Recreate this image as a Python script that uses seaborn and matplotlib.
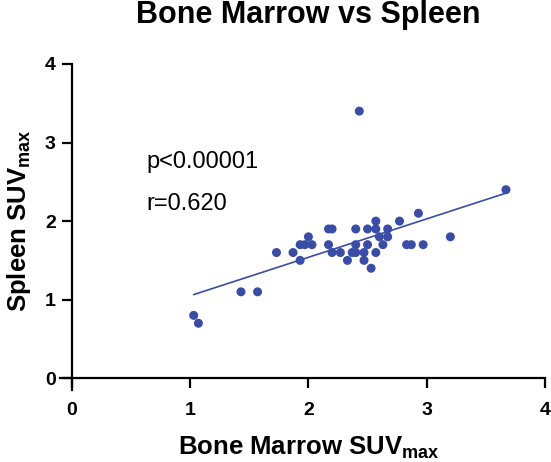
import numpy as np
import pandas as pd
import matplotlib
matplotlib.use("Agg")
import matplotlib.pyplot as plt
import seaborn as sns

bone_marrow = [1.03, 1.07, 1.43, 1.57, 1.73, 1.87, 1.93, 1.93, 1.97, 2.00, 2.03,
               2.17, 2.20, 2.17, 2.20, 2.27, 2.33, 2.37, 2.40, 2.40, 2.40, 2.43,
               2.47, 2.47, 2.50, 2.50, 2.53, 2.57, 2.57, 2.57, 2.60, 2.63, 2.67,
               2.67, 2.77, 2.83, 2.87, 2.93, 2.97, 3.20, 3.67]
spleen = [0.8, 0.7, 1.1, 1.1, 1.6, 1.6, 1.5, 1.7, 1.7, 1.8, 1.7,
          1.9, 1.9, 1.7, 1.6, 1.6, 1.5, 1.6, 1.6, 1.9, 1.7, 3.4,
          1.6, 1.5, 1.9, 1.7, 1.4, 2.0, 1.9, 1.6, 1.8, 1.7, 1.9,
          1.8, 2.0, 1.7, 1.7, 2.1, 1.7, 1.8, 2.4]
x_ticks = [0, 1, 2, 3, 4]
y_ticks = [0, 1, 2, 3, 4]
title = "Bone Marrow vs Spleen"
xlabel = r"Bone Marrow SUV$_{\mathbf{max}}$"
ylabel = r"Spleen SUV$_{\mathbf{max}}$"
annot_p = "p<0.00001"
annot_r = "r=0.620"

df = pd.DataFrame({"bm": bone_marrow, "sp": spleen})

sns.set_theme(style="ticks")
plt.rcParams["font.family"] = ["Liberation Sans", "DejaVu Sans"]
plt.rcParams["mathtext.fontset"] = "custom"
plt.rcParams["mathtext.rm"] = "Liberation Sans"
plt.rcParams["mathtext.bf"] = "Liberation Sans:bold"
plt.rcParams["mathtext.it"] = "Liberation Sans:italic"
plt.rcParams["text.color"] = "black"
plt.rcParams["axes.labelcolor"] = "black"

color = "#3a4da6"
fig = plt.figure(figsize=(5.51, 4.62), dpi=100)
ax = fig.add_axes([60/551, (462-390)/462, 485/551, 326/462])

sns.scatterplot(data=df, x="bm", y="sp", ax=ax, color=color, s=42,
                edgecolor="none", linewidth=0, zorder=3)

slope, intercept = np.polyfit(df["bm"], df["sp"], 1)
xs = np.array([df["bm"].min(), df["bm"].max()])
sns.lineplot(x=xs, y=slope * xs + intercept, ax=ax, color=color, linewidth=1.2)

ax.set_xlim(-0.1, 4.0)
ax.set_ylim(-0.15, 4.0)
ax.spines["left"].set_position(("data", 0))
ax.spines["bottom"].set_position(("data", 0))
for s in ["top", "right"]:
    ax.spines[s].set_visible(False)
for s in ["left", "bottom"]:
    ax.spines[s].set_linewidth(1.6)
    ax.spines[s].set_color("black")
ax.set_xticks(x_ticks)
ax.set_yticks(y_ticks)
ax.tick_params(axis="both", direction="out", length=7.5, width=1.6, colors="black",
               labelsize=14)
ax.tick_params(axis="x", pad=9.5)
ax.tick_params(axis="y", pad=4)
for lab in ax.get_xticklabels() + ax.get_yticklabels():
    lab.set_fontweight("bold")

ax.set_xlabel(xlabel, fontsize=18.5, fontweight="bold")
ax.set_ylabel(ylabel, fontsize=18.5, fontweight="bold")
ax.xaxis.set_label_coords(0.512, -0.138)
ax.yaxis.set_label_coords(-0.056, 0.518)
fig.text(308.5/551, 1 - 23/462, title, fontsize=22, fontweight="bold",
         ha="center", va="baseline", color="black")

ax.text(0.634, 2.675, annot_p, fontsize=17, va="baseline", ha="left", color="black")
ax.text(0.634, 2.14, annot_r, fontsize=17, va="baseline", ha="left", color="black")

fig.savefig("out.png", dpi=100)
